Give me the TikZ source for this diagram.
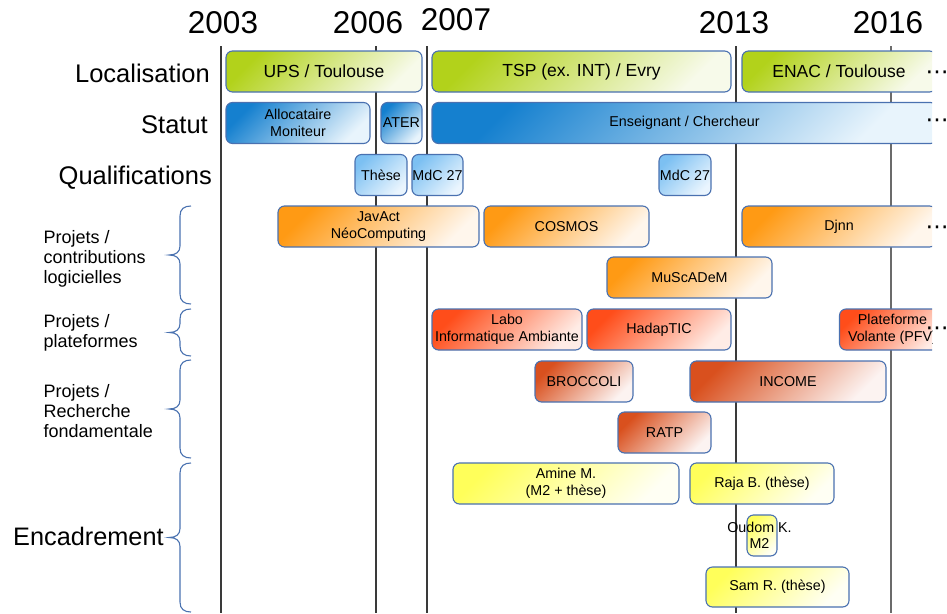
\documentclass[tikz,border=0pt]{standalone}
\usepackage{fontspec}
\setmainfont{Liberation Sans}
\newfontfamily\symfont{DejaVu Sans}

\definecolor{barborder}{HTML}{4A71B0}
\definecolor{bracecol}{HTML}{4A72B0}
\definecolor{gridline}{HTML}{3A3A3A}
\definecolor{greenA}{HTML}{B2D21B}
\definecolor{greenB}{HTML}{F7FAEA}
\definecolor{blueA}{HTML}{1580CF}
\definecolor{blueB}{HTML}{E8F4FC}
\definecolor{qualA}{HTML}{7CC0F2}
\definecolor{qualB}{HTML}{EAF5FE}
\definecolor{orangeA}{HTML}{FF9A14}
\definecolor{orangeB}{HTML}{FFF6EC}
\definecolor{platA}{HTML}{FF4D1A}
\definecolor{platB}{HTML}{FFECE6}
\definecolor{resA}{HTML}{D9501E}
\definecolor{resB}{HTML}{FCF3F1}
\definecolor{yelA}{HTML}{FFFF5A}
\definecolor{yelB}{HTML}{FFFFF4}

\begin{document}
\begin{tikzpicture}[x=1pt,y=-1pt,
  every node/.style={inner sep=0pt, text=black},
  year/.style={anchor=base, font=\fontsize{31.5}{34}\selectfont},
  rowlabel/.style={anchor=base east, font=\fontsize{25.5}{28}\selectfont},
  grouplabel/.style={anchor=north west, align=left, font=\fontsize{18}{20}\selectfont},
  yearline/.style={draw=gridline, line width=1.3pt},
  bracket/.style={draw=bracecol, line width=1.1pt},
  bar/.style={draw=barborder, line width=1.1pt, rounded corners=6.5pt,
    align=center, font=\fontsize{14.3}{17}\selectfont, minimum height=41pt},
  bigbar/.style={bar, font=\fontsize{17.5}{21}\selectfont},
  greenbar/.style={top color=greenA, bottom color=greenB, shading angle=45},
  bluebar/.style={top color=blueA, bottom color=blueB, shading angle=45},
  qualbar/.style={top color=qualA, bottom color=qualB, shading angle=45},
  orangebar/.style={top color=orangeA, bottom color=orangeB, shading angle=45},
  platbar/.style={top color=platA, bottom color=platB, shading angle=45},
  resbar/.style={top color=resA, bottom color=resB, shading angle=45},
  yelbar/.style={top color=yelA, bottom color=yelB, shading angle=45},
  more/.style={anchor=base, font=\symfont\fontsize{23}{23}\selectfont}
]
\useasboundingbox (0,0) rectangle (947,613);

% year headings
\node[year] (y2003) at (223,33) {2003};
\node[year] (y2006) at (368,33) {2006};
\node[year] (y2007) at (456,30) {2007};
\node[year] (y2013) at (734,33) {2013};
\node[year] (y2016) at (888,33) {2016};

% vertical year lines
\coordinate (l2003) at (221,46);
\coordinate (l2006) at (376,46);
\coordinate (l2007) at (427,46);
\coordinate (l2013) at (736,46);
\coordinate (l2016) at (891,46);
\foreach \c in {l2003,l2006,l2007,l2013}
  \draw[yearline] (\c) -- ++(0,567);
\draw[yearline, draw=gridline!75] (l2016) -- ++(0,567);

% row labels
\node[rowlabel] (locl) at (210,82) {Localisation};
\node[rowlabel] (statl) at (208,133) {Statut};
\node[rowlabel] (quall) at (212,184) {Qualifications};
\node[grouplabel] (logl) at (43.5,230) {Projets /\\contributions\\logicielles};
\node[grouplabel] (platl) at (43.5,314) {Projets /\\plateformes};
\node[grouplabel] (resl) at (43.5,384) {Projets /\\Recherche\\fondamentale};
\node[anchor=base west, font=\fontsize{25.3}{28}\selectfont] (encl) at (13,545) {Encadrement};

% group braces
\foreach \ya/\yb in {206/304, 309/356, 360/458, 463/612}{
  \pgfmathsetmacro{\ym}{(\ya+\yb)/2}
  \draw[bracket] (191,\ya) .. controls (184,\ya) and (180,\ya+3) .. (180,\ya+10)
    -- (180,\ym-9) .. controls (180,\ym-3) and (176,\ym) .. (169,\ym)
    .. controls (176,\ym) and (180,\ym+3) .. (180,\ym+9)
    -- (180,\yb-10) .. controls (180,\yb-3) and (184,\yb) .. (191,\yb);
}

\begin{scope}
\clip (0,0) rectangle (932,613);
% Localisation
\node[bigbar, greenbar, minimum width=196pt] (ups) at (324,71.5) {UPS / Toulouse};
\node[bigbar, greenbar, minimum width=299pt] (tsp) at (581.5,71.5) {TSP (ex. INT) / Evry};
\node[bigbar, greenbar, minimum width=194pt] (enac) at (839,71.5) {ENAC / Toulouse};
% Statut
\node[bar, bluebar, minimum width=144pt] (alloc) at (298,123) {Allocataire\\Moniteur};
\node[bar, bluebar, minimum width=41pt] (ater) at (401.5,123) {ATER};
\node[bar, bluebar, minimum width=505pt] (ens) at (684.5,123) {Enseignant / Chercheur};
% Qualifications
\node[bar, qualbar, minimum width=52pt] (these) at (381,175) {Thèse};
\node[bar, qualbar, minimum width=51pt] (mdca) at (437.5,175) {MdC 27};
\node[bar, qualbar, minimum width=52pt] (mdcb) at (685,175) {MdC 27};
% Projets / contributions logicielles
\node[bar, orangebar, minimum width=201pt] (javact) at (378.5,226.5) {JavAct\\NéoComputing};
\node[bar, orangebar, minimum width=165pt] (cosmos) at (566.5,226.5) {COSMOS};
\node[bar, orangebar, minimum width=194pt] (djnn) at (839,226.5) {Djnn};
\node[bar, orangebar, minimum width=165pt] (muscadem) at (689.5,277.5) {MuScADeM};
% Projets / plateformes
\node[bar, platbar, minimum width=150pt] (labo) at (507,329.5) {Labo\\Informatique Ambiante};
\node[bar, platbar, minimum width=144pt] (hadaptic) at (659,329.5) {HadapTIC};
\node[bar, platbar, minimum width=106pt] (pfv) at (892.5,329.5) {Plateforme\\Volante (PFV)};
% Projets / Recherche fondamentale
\node[bar, resbar, minimum width=98pt] (broccoli) at (584,381.5) {BROCCOLI};
\node[bar, resbar, minimum width=196pt] (income) at (788,381.5) {INCOME};
\node[bar, resbar, minimum width=93pt] (ratp) at (664.5,432.5) {RATP};
% Encadrement
\node[bar, yelbar, minimum width=226pt] (amine) at (566,483.5) {Amine M.\\(M2 + thèse)};
\node[bar, yelbar, minimum width=144pt] (raja) at (762,483.5) {Raja B. (thèse)};
\node[bar, yelbar, minimum width=30pt] (oudom) at (762,535.5) {};
\node[align=center, font=\fontsize{14.3}{16}\selectfont] (oudomtxt) at (759.5,535) {Oudom K.\\M2};
\node[bar, yelbar, minimum width=143pt, minimum height=40pt] (sam) at (777.5,587) {Sam R. (thèse)};
\end{scope}

% continuation marks
\node[more] (moreloc) at (937,79) {⋯};
\node[more] (morestat) at (937,127) {⋯};
\node[more] (moredjnn) at (937,234) {⋯};
\node[more] (morepfv) at (937,335) {⋯};
\end{tikzpicture}
\end{document}
